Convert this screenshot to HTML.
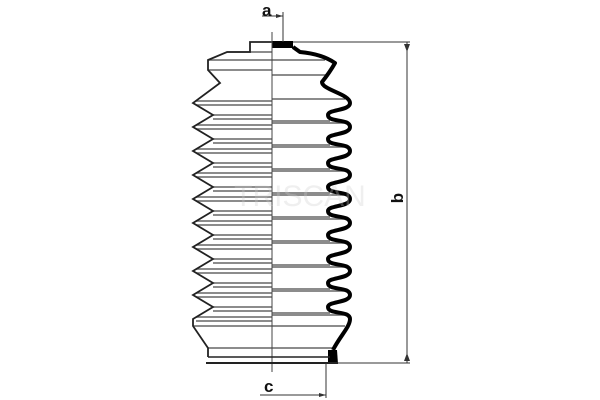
<!DOCTYPE html>
<html><head><style>html,body{margin:0;padding:0;background:#fff;width:600px;height:400px;overflow:hidden}</style></head>
<body>
<svg id="s" width="600" height="400" viewBox="0 0 600 400" xmlns="http://www.w3.org/2000/svg">
<g id="lines" stroke="#666" stroke-width="1.5"></g>
<path id="L" fill="none" stroke="#222" stroke-width="1.8"/>
<path id="R" fill="none" stroke="#000" stroke-width="4" stroke-linejoin="round"/>
<rect x="272" y="41" width="21" height="7" fill="#000"/>
<path d="M328,350 L337,350 L338,364 L328,364 Z" fill="#000"/>
<line x1="272" y1="32" x2="272" y2="372" stroke="#444" stroke-width="1"/>
<line x1="206" y1="363" x2="338" y2="363" stroke="#222" stroke-width="2"/>
<line x1="208" y1="357" x2="330" y2="357" stroke="#222" stroke-width="1.5"/>
<line x1="293" y1="42" x2="410" y2="42" stroke="#333" stroke-width="1"/>
<line x1="338" y1="363" x2="410" y2="363" stroke="#333" stroke-width="1"/>
<line x1="407" y1="42" x2="407" y2="363" stroke="#333" stroke-width="1"/>
<path d="M404,44 L410,44 L407,52 Z M404,361 L410,361 L407,353 Z" fill="#333"/>
<line x1="283" y1="12" x2="283" y2="42" stroke="#333" stroke-width="1"/>
<line x1="262" y1="16" x2="283" y2="16" stroke="#333" stroke-width="1"/>
<path d="M283,16 L276,14 L276,18 Z" fill="#333"/>
<line x1="326" y1="363" x2="326" y2="398" stroke="#333" stroke-width="1"/>
<line x1="260" y1="395" x2="326" y2="395" stroke="#333" stroke-width="1"/>
<path d="M326,395 L319,393 L319,397 Z" fill="#333"/>
<text x="262" y="16" font-family="Liberation Sans, sans-serif" font-size="17" font-weight="bold" fill="#111">a</text>
<text x="264" y="392" font-family="Liberation Sans, sans-serif" font-size="17" font-weight="bold" fill="#111">c</text>
<text x="0" y="0" font-family="Liberation Sans, sans-serif" font-size="17" font-weight="bold" fill="#111" transform="translate(403,198) rotate(-90)" text-anchor="middle">b</text>
<text x="300" y="206" font-family="Liberation Sans, sans-serif" font-size="30" fill="#ccc" opacity="0.3" text-anchor="middle">TRISCAN</text>
</svg>
<script>
var L="M272,42 L250,42 L250,52 L227,52 L208,60 L208,70 L220,83";
var R="M293,47 L300,52 Q322,54 335,63 Q330,72 322,82";
var g=document.getElementById('lines'),h='';
function ln(x1,y,x2){h+='<line x1="'+x1+'" y1="'+y+'" x2="'+x2+'" y2="'+y+'"/>';}
ln(227,52,272);ln(208,60,272);ln(208,70,272);ln(272,60,325);ln(272,75,328);
var px=322,py=82;
for(var n=0;n<10;n++){var p=103+24*n;L+=" L193,"+p;
 R+=" C"+px+","+(py+8)+" 350,"+(p-9)+" 350,"+p;
 px=350;py=p;
 ln(196,p-2,272);ln(196,p+2,272);ln(272,p-4,345);
 if(n<9){var v=115+24*n;L+=" L213,"+v;
  R+=" C350,"+(p+8)+" 328,"+(v-6)+" 328,"+v;px=328;py=v;
  ln(213,v,272);ln(213,v+4,272);ln(272,v+6,330);}}
L+=" L193,326 L208,348 L208,357";
R+=" C350,"+(py+8)+" 340,336 333,350";
ln(193,326,272);ln(272,326,345);ln(208,348,272);ln(272,348,334);
g.innerHTML=h;
document.getElementById('L').setAttribute('d',L);
document.getElementById('R').setAttribute('d',R);
</script>
</body></html>
